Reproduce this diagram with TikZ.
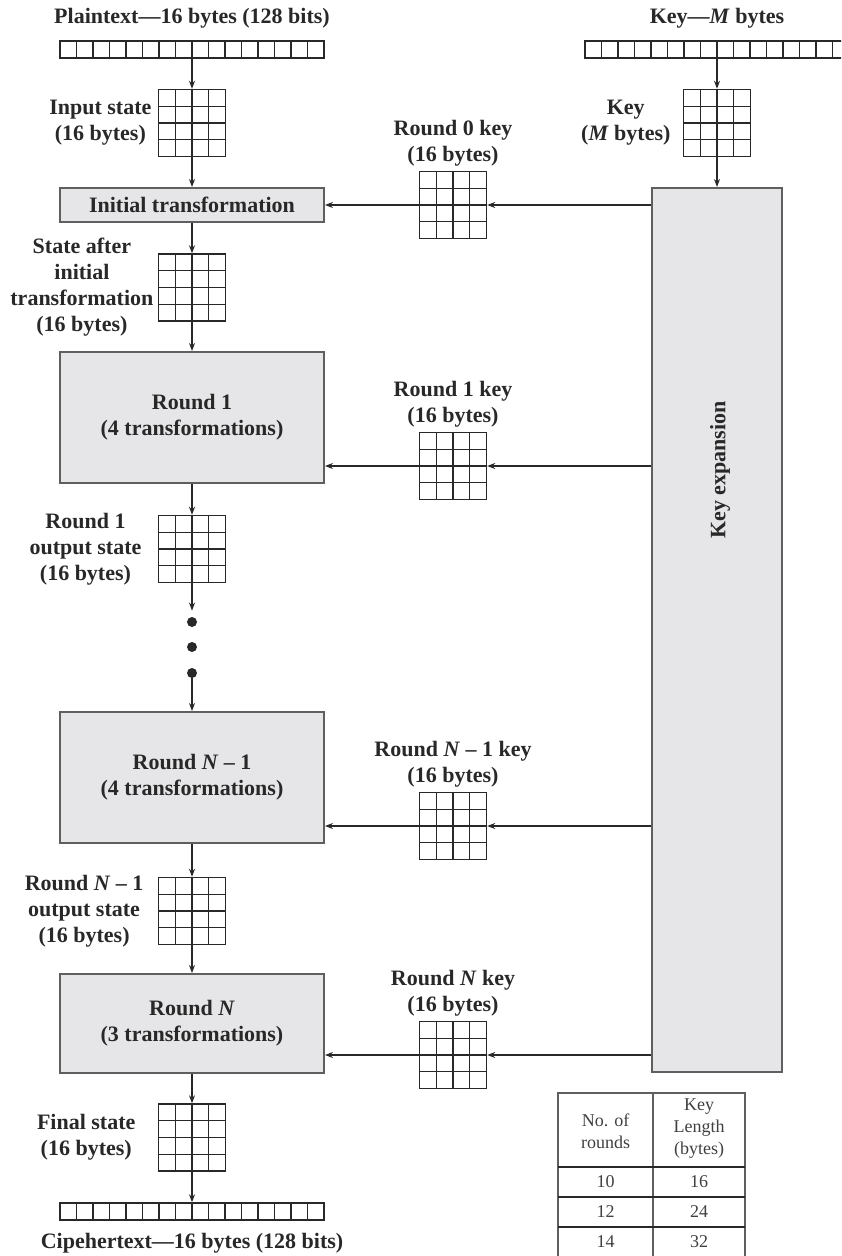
\documentclass[tikz,border=0pt]{standalone}
\usepackage{fontspec}
\setmainfont{Liberation Serif}
\usepackage{tikz}
\usetikzlibrary{arrows.meta, positioning, calc}

\definecolor{boxgray}{RGB}{230,230,232}
\definecolor{edgegray}{RGB}{95,95,95}
\definecolor{inkgray}{RGB}{40,40,40}

\tikzset{
  statebox/.style={draw=inkgray, line width=0.7pt, minimum width=33.5pt, minimum height=33.5pt, inner sep=0pt,
    path picture={
      \foreach \k in {1,2,3} {
        \draw[inkgray, line width=0.7pt]
          ($(path picture bounding box.south west)!\k/4!(path picture bounding box.south east)$) --
          ($(path picture bounding box.north west)!\k/4!(path picture bounding box.north east)$);
        \draw[inkgray, line width=0.7pt]
          ($(path picture bounding box.south west)!\k/4!(path picture bounding box.north west)$) --
          ($(path picture bounding box.south east)!\k/4!(path picture bounding box.north east)$);
      }}},
  bytebar/.style={draw=inkgray, line width=0.7pt, minimum width=132pt, minimum height=8.5pt, inner sep=0pt,
    path picture={
      \foreach \k in {1,...,15} {
        \draw[inkgray, line width=0.7pt]
          ($(path picture bounding box.south west)!\k/16!(path picture bounding box.south east)$) --
          ($(path picture bounding box.north west)!\k/16!(path picture bounding box.north east)$);
      }}},
  stage/.style={draw=edgegray, fill=boxgray, line width=1pt, minimum width=132pt, align=center, inner sep=0pt},
  lbl/.style={align=center, inner sep=0pt},
  cell/.style={align=center, inner sep=0pt, font=\fontsize{9}{11}\selectfont, text=black!75},
  dot/.style={circle, fill=inkgray, inner sep=0pt, minimum size=5pt},
}

\begin{document}
\begin{tikzpicture}[
    x=0.5pt, y=-0.5pt,
    font=\fontsize{11}{13}\selectfont\bfseries,
    text=inkgray,
    >={Stealth[length=4pt, width=3pt]},
    arrow/.style={->, draw=inkgray, line width=0.65pt},
]
    \useasboundingbox (0,0) rectangle (841,1256);
    \clip (0,0) rectangle (841,1256);

    % data path
    \node[bytebar] (plain) at (192,49.5) {};
    \node[lbl, above=6pt of plain] (plainlbl) {Plaintext---16 bytes (128 bits)};
    \node[statebox] (instate) at (192,123) {};
    \node[lbl, left=3pt of instate] (instatelbl) {Input state\\(16 bytes)};
    \node[stage, minimum height=17pt] (init) at (192,205) {Initial transformation};
    \node[statebox] (state0) at (192,287.5) {};
    \node[lbl, left=2pt of state0] (state0lbl) {State after\\initial\\transformation\\(16 bytes)};
    \node[stage, minimum height=65.5pt] (round1) at (192,417.5) {Round 1\\(4 transformations)};
    \node[statebox] (out1) at (192,549) {};
    \node[lbl, left=8pt of out1] (out1lbl) {Round 1\\output state\\(16 bytes)};
    \foreach \y [count=\i] in {622,647,673}
        \node[dot] (dot\i) at (192,\y) {};
    \node[stage, minimum height=65.5pt] (roundN1) at (192,777.5) {Round \textit{N} -- 1\\(4 transformations)};
    \node[statebox] (outN1) at (192,911) {};
    \node[lbl, left=7pt of outN1] (outN1lbl) {Round \textit{N} -- 1\\output state\\(16 bytes)};
    \node[stage, minimum height=49.5pt] (roundN) at (192,1023.5) {Round \textit{N}\\(3 transformations)};
    \node[statebox] (final) at (192,1137.5) {};
    \node[lbl, left=11pt of final] (finallbl) {Final state\\(16 bytes)};
    \node[bytebar] (cipher) at (192,1211.5) {};
    \node[lbl, below=6pt of cipher] (cipherlbl) {Cipehertext---16 bytes (128 bits)};

    % key path
    \node[bytebar] (keybar) at (717,49.5) {};
    \node[lbl, above=6pt of keybar] (keybarlbl) {Key---\textit{M} bytes};
    \node[statebox] (keygrid) at (717,123) {};
    \node[lbl, left=6pt of keygrid] (keygridlbl) {Key\\(\textit{M} bytes)};
    \node[stage, minimum width=65pt, minimum height=442pt] (keyexp) at (717,630) {};
    \node[lbl, rotate=90] (keyexplbl) at (720,470) {Key expansion};

    \node[statebox] (key0) at (453,205) {};
    \node[lbl, above=2pt of key0] (key0lbl) {Round 0 key\\(16 bytes)};
    \node[statebox] (key1) at (453,466) {};
    \node[lbl, above=2pt of key1] (key1lbl) {Round 1 key\\(16 bytes)};
    \node[statebox] (keyN1) at (453,826) {};
    \node[lbl, above=2pt of keyN1] (keyN1lbl) {Round \textit{N} -- 1 key\\(16 bytes)};
    \node[statebox] (keyN) at (453,1055) {};
    \node[lbl, above=2pt of keyN] (keyNlbl) {Round \textit{N} key\\(16 bytes)};

    % vertical arrows
    \draw[arrow] (plain.south) -- (instate.north);
    \draw[arrow] (instate.north) -- (init.north);
    \draw[arrow] (init.south) -- (state0.north);
    \draw[arrow] (state0.north) -- (round1.north);
    \draw[arrow] (round1.south) -- (out1.north);
    \draw[arrow, shorten >=3pt] (out1.north) -- (dot1);
    \draw[arrow] (dot3) -- (roundN1.north);
    \draw[arrow] (roundN1.south) -- (outN1.north);
    \draw[arrow] (outN1.north) -- (roundN.north);
    \draw[arrow] (roundN.south) -- (final.north);
    \draw[arrow] (final.north) -- (cipher.north);
    \draw[arrow] (keybar.south) -- (keygrid.north);
    \draw[arrow] (keygrid.north) -- (keyexp.north);

    % round keys
    \foreach \k/\r in {key0/init, key1/round1, keyN1/roundN1, keyN/roundN} {
        \draw[arrow] (keyexp.west |- \k) -- (\k.east);
        \draw[arrow] (\k.east) -- (\k -| \r.east);
    }

    % rounds table
    \draw[edgegray, line width=0.8pt] (558,1093) rectangle (745,1260);
    \draw[edgegray, line width=0.8pt] (653,1093) -- (653,1260);
    \foreach \y in {1167,1197,1227}
        \draw[inkgray, line width=1.3pt] (558,\y) -- (745,\y);
    \node[cell] (hrounds) at (605.5,1131) {No. of\\rounds};
    \node[cell] (hkeylen) at (699,1129) {Key\\Length\\(bytes)};
    \foreach \r/\b [count=\i] in {10/16, 12/24, 14/32} {
        \node[cell] (nr\i) at (605.5,{1152+30*\i}) {\r};
        \node[cell] (kl\i) at (699,{1152+30*\i}) {\b};
    }
\end{tikzpicture}
\end{document}
